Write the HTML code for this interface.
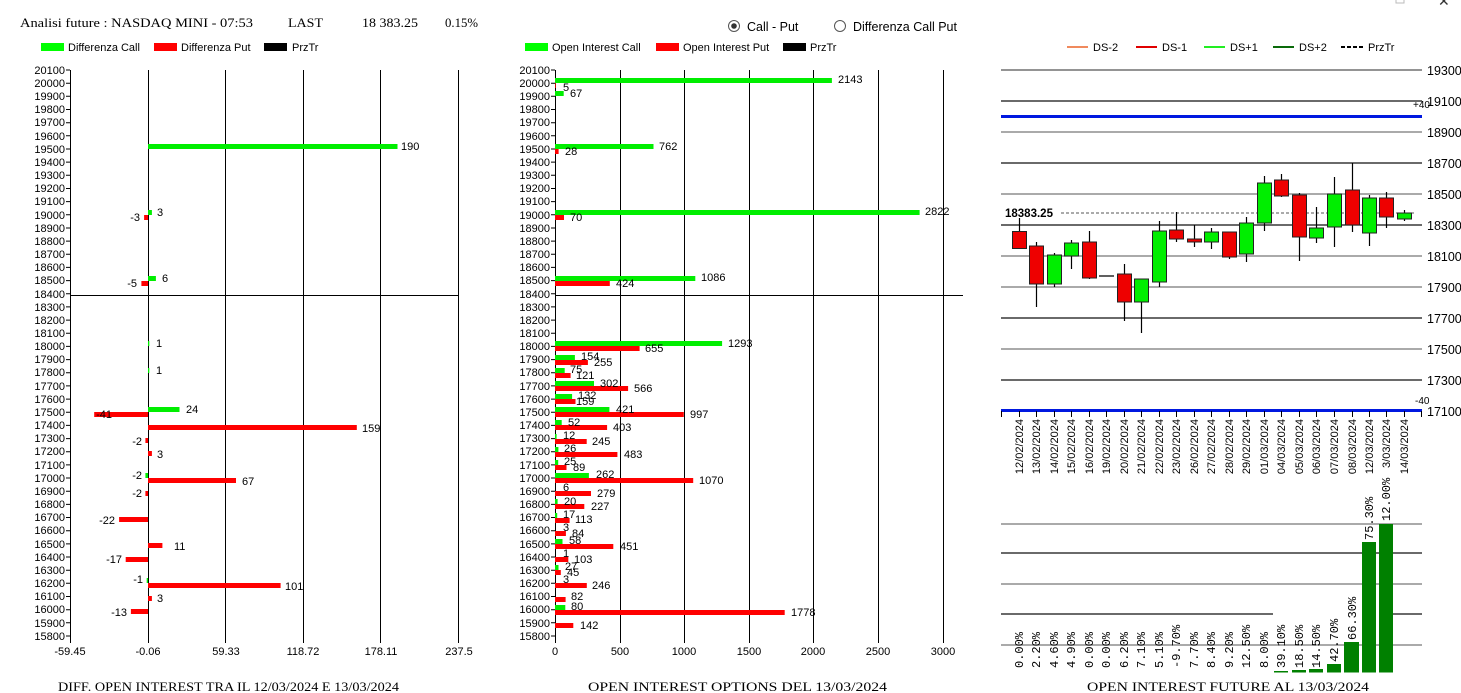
<!DOCTYPE html>
<html><head><meta charset="utf-8"><style>
html,body{margin:0;padding:0;background:#fff;}
svg{display:block;font-family:"Liberation Sans",sans-serif;}
.t{font-size:11px;}
.s{font-family:"Liberation Serif",serif;font-size:13px;}
.m{font-family:"Liberation Mono",monospace;font-size:12px;}
</style></head><body>
<svg width="1461" height="693" viewBox="0 0 1461 693" xmlns="http://www.w3.org/2000/svg">
<rect width="1461" height="693" fill="#fff"/>
<!-- header -->
<text class="s" x="20" y="27" textLength="233" lengthAdjust="spacingAndGlyphs">Analisi future : NASDAQ MINI - 07:53</text>
<text class="s" x="288" y="27" textLength="35" lengthAdjust="spacingAndGlyphs">LAST</text>
<text class="s" x="362" y="27" textLength="56" lengthAdjust="spacingAndGlyphs">18 383.25</text>
<text class="s" x="445" y="27" textLength="33" lengthAdjust="spacingAndGlyphs">0.15%</text>
<circle cx="734" cy="26" r="5.5" fill="#fff" stroke="#555"/><circle cx="734" cy="26" r="2.8" fill="#333"/>
<text x="747" y="31" font-size="12.5">Call - Put</text>
<circle cx="840" cy="26" r="5.5" fill="#fff" stroke="#555"/>
<text x="853" y="31" font-size="12.5">Differenza Call Put</text>
<rect x="1396" y="-4" width="8" height="7" fill="none" stroke="#bbb"/>
<text x="1438" y="6" font-size="14" fill="#333">✕</text>
<!-- legends -->
<rect x="41" y="43" width="23" height="8" fill="#00ff00"/><text class="t" x="68" y="51">Differenza Call</text>
<rect x="154" y="43" width="23" height="8" fill="#ff0000"/><text class="t" x="181" y="51">Differenza Put</text>
<rect x="264" y="43" width="23" height="8" fill="#000"/><text class="t" x="292" y="51">PrzTr</text>
<rect x="525" y="43" width="23" height="8" fill="#00ff00"/><text class="t" x="552" y="51">Open Interest Call</text>
<rect x="656" y="43" width="23" height="8" fill="#ff0000"/><text class="t" x="683" y="51">Open Interest Put</text>
<rect x="783" y="43" width="23" height="8" fill="#000"/><text class="t" x="810" y="51">PrzTr</text>
<line x1="1067" y1="47" x2="1088" y2="47" stroke="#f08a5d" stroke-width="2"/><text class="t" x="1093" y="51">DS-2</text>
<line x1="1136" y1="47" x2="1157" y2="47" stroke="#e00000" stroke-width="2"/><text class="t" x="1162" y="51">DS-1</text>
<line x1="1204" y1="47" x2="1225" y2="47" stroke="#22ee22" stroke-width="2"/><text class="t" x="1230" y="51">DS+1</text>
<line x1="1273" y1="47" x2="1294" y2="47" stroke="#0a6a0a" stroke-width="2"/><text class="t" x="1299" y="51">DS+2</text>
<line x1="1341" y1="47" x2="1363" y2="47" stroke="#000" stroke-width="2" stroke-dasharray="4,2"/><text class="t" x="1368" y="51">PrzTr</text>

<!-- LEFT CHART -->
<g stroke="#000" stroke-width="1">
<line x1="70.5" y1="70" x2="70.5" y2="643"/>
<line x1="148.5" y1="70" x2="148.5" y2="643"/>
<line x1="225.5" y1="70" x2="225.5" y2="643"/>
<line x1="303.5" y1="70" x2="303.5" y2="643"/>
<line x1="380.5" y1="70" x2="380.5" y2="643"/>
<line x1="458.5" y1="70" x2="458.5" y2="643"/>
<line x1="70" y1="295.5" x2="459" y2="295.5"/>
<line x1="555.5" y1="70" x2="555.5" y2="643"/>
<line x1="620.5" y1="70" x2="620.5" y2="643"/>
<line x1="684.5" y1="70" x2="684.5" y2="643"/>
<line x1="749.5" y1="70" x2="749.5" y2="643"/>
<line x1="813.5" y1="70" x2="813.5" y2="643"/>
<line x1="878.5" y1="70" x2="878.5" y2="643"/>
<line x1="943.5" y1="70" x2="943.5" y2="643"/>
<line x1="555" y1="295.5" x2="963" y2="295.5"/>
</g>
<g stroke="#000">
<path d="M66 70H70M66 83.2H70M66 96.3H70M66 109.5H70M66 122.7H70M66 135.8H70M66 149H70M66 162.1H70M66 175.3H70M66 188.5H70M66 201.6H70M66 214.8H70M66 228H70M66 241.1H70M66 254.3H70M66 267.4H70M66 280.6H70M66 293.8H70M66 306.9H70M66 320.1H70M66 333.3H70M66 346.4H70M66 359.6H70M66 372.7H70M66 385.9H70M66 399.1H70M66 412.2H70M66 425.4H70M66 438.6H70M66 451.7H70M66 464.9H70M66 478H70M66 491.2H70M66 504.4H70M66 517.5H70M66 530.7H70M66 543.9H70M66 557H70M66 570.2H70M66 583.3H70M66 596.5H70M66 609.7H70M66 622.8H70M66 636H70"/>
<path transform="translate(485,0)" d="M66 70H70M66 83.2H70M66 96.3H70M66 109.5H70M66 122.7H70M66 135.8H70M66 149H70M66 162.1H70M66 175.3H70M66 188.5H70M66 201.6H70M66 214.8H70M66 228H70M66 241.1H70M66 254.3H70M66 267.4H70M66 280.6H70M66 293.8H70M66 306.9H70M66 320.1H70M66 333.3H70M66 346.4H70M66 359.6H70M66 372.7H70M66 385.9H70M66 399.1H70M66 412.2H70M66 425.4H70M66 438.6H70M66 451.7H70M66 464.9H70M66 478H70M66 491.2H70M66 504.4H70M66 517.5H70M66 530.7H70M66 543.9H70M66 557H70M66 570.2H70M66 583.3H70M66 596.5H70M66 609.7H70M66 622.8H70M66 636H70"/>
</g>
<g class="t" font-size="10.5" text-anchor="end">
<text x="65" y="74">20100</text><text x="65" y="87">20000</text><text x="65" y="100">19900</text><text x="65" y="113">19800</text><text x="65" y="126">19700</text><text x="65" y="140">19600</text><text x="65" y="153">19500</text><text x="65" y="166">19400</text><text x="65" y="179">19300</text><text x="65" y="192">19200</text><text x="65" y="205">19100</text><text x="65" y="219">19000</text><text x="65" y="232">18900</text><text x="65" y="245">18800</text><text x="65" y="258">18700</text><text x="65" y="271">18600</text><text x="65" y="284">18500</text><text x="65" y="298">18400</text><text x="65" y="311">18300</text><text x="65" y="324">18200</text><text x="65" y="337">18100</text><text x="65" y="350">18000</text><text x="65" y="363">17900</text><text x="65" y="376">17800</text><text x="65" y="390">17700</text><text x="65" y="403">17600</text><text x="65" y="416">17500</text><text x="65" y="429">17400</text><text x="65" y="442">17300</text><text x="65" y="455">17200</text><text x="65" y="469">17100</text><text x="65" y="482">17000</text><text x="65" y="495">16900</text><text x="65" y="508">16800</text><text x="65" y="521">16700</text><text x="65" y="534">16600</text><text x="65" y="548">16500</text><text x="65" y="561">16400</text><text x="65" y="574">16300</text><text x="65" y="587">16200</text><text x="65" y="600">16100</text><text x="65" y="613">16000</text><text x="65" y="627">15900</text><text x="65" y="640">15800</text>
</g>
<g class="t" font-size="10.5" text-anchor="end" transform="translate(485,0)">
<text x="65" y="74">20100</text><text x="65" y="87">20000</text><text x="65" y="100">19900</text><text x="65" y="113">19800</text><text x="65" y="126">19700</text><text x="65" y="140">19600</text><text x="65" y="153">19500</text><text x="65" y="166">19400</text><text x="65" y="179">19300</text><text x="65" y="192">19200</text><text x="65" y="205">19100</text><text x="65" y="219">19000</text><text x="65" y="232">18900</text><text x="65" y="245">18800</text><text x="65" y="258">18700</text><text x="65" y="271">18600</text><text x="65" y="284">18500</text><text x="65" y="298">18400</text><text x="65" y="311">18300</text><text x="65" y="324">18200</text><text x="65" y="337">18100</text><text x="65" y="350">18000</text><text x="65" y="363">17900</text><text x="65" y="376">17800</text><text x="65" y="390">17700</text><text x="65" y="403">17600</text><text x="65" y="416">17500</text><text x="65" y="429">17400</text><text x="65" y="442">17300</text><text x="65" y="455">17200</text><text x="65" y="469">17100</text><text x="65" y="482">17000</text><text x="65" y="495">16900</text><text x="65" y="508">16800</text><text x="65" y="521">16700</text><text x="65" y="534">16600</text><text x="65" y="548">16500</text><text x="65" y="561">16400</text><text x="65" y="574">16300</text><text x="65" y="587">16200</text><text x="65" y="600">16100</text><text x="65" y="613">16000</text><text x="65" y="627">15900</text><text x="65" y="640">15800</text>
</g>
<g class="t" text-anchor="middle">
<text x="70" y="655">-59.45</text><text x="148" y="655">-0.06</text><text x="226" y="655">59.33</text><text x="303" y="655">118.72</text><text x="381" y="655">178.11</text><text x="459" y="655">237.5</text>
<text x="555" y="655">0</text><text x="620" y="655">500</text><text x="684" y="655">1000</text><text x="749" y="655">1500</text><text x="813" y="655">2000</text><text x="878" y="655">2500</text><text x="943" y="655">3000</text>
</g>
<!-- left bars -->
<g fill="#00ee00">
<rect x="148" y="144" width="249.5" height="5"/>
<rect x="148" y="210" width="3.9" height="5"/>
<rect x="148" y="276" width="7.9" height="5"/>
<rect x="148" y="341" width="1.3" height="5"/>
<rect x="148" y="368" width="1.3" height="5"/>
<rect x="148" y="407" width="31.5" height="5"/>
<rect x="145.4" y="473" width="2.6" height="5"/>
<rect x="146.7" y="578" width="1.3" height="5"/>
</g>
<g fill="#ff0000">
<rect x="144.1" y="215" width="3.9" height="5"/>
<rect x="141.4" y="281" width="6.6" height="5"/>
<rect x="94.2" y="412" width="53.8" height="5"/>
<rect x="148" y="425" width="208.8" height="5"/>
<rect x="145.4" y="438" width="2.6" height="5"/>
<rect x="148" y="451" width="3.9" height="5"/>
<rect x="148" y="478" width="88" height="5"/>
<rect x="145.4" y="491" width="2.6" height="5"/>
<rect x="119.1" y="517" width="28.9" height="5"/>
<rect x="148" y="543" width="14.4" height="5"/>
<rect x="125.7" y="557" width="22.3" height="5"/>
<rect x="148" y="583" width="132.6" height="5"/>
<rect x="148" y="596" width="3.9" height="5"/>
<rect x="130.9" y="609" width="17.1" height="5"/>
</g>
<g class="t">
<text x="401" y="150">190</text><text x="157" y="216">3</text><text x="162" y="282">6</text>
<text x="156" y="347">1</text><text x="156" y="374">1</text><text x="186" y="413">24</text>
<text x="362" y="432">159</text><text x="157" y="458">3</text><text x="242" y="485">67</text>
<text x="174" y="550">11</text><text x="285" y="590">101</text><text x="157" y="602">3</text>
</g>
<g class="t" text-anchor="end">
<text x="140" y="221">-3</text><text x="137" y="287">-5</text><text x="112" y="418">-41</text>
<text x="142" y="445">-2</text><text x="142" y="479">-2</text><text x="142" y="497">-2</text>
<text x="115" y="524">-22</text><text x="122" y="563">-17</text><text x="143" y="583">-1</text><text x="127" y="616">-13</text>
</g>
<!-- middle bars -->
<g fill="#00ee00">
<rect x="555" y="78" width="276.9" height="5"/>
<rect x="555" y="91" width="8.7" height="5"/>
<rect x="555" y="144" width="98.5" height="5"/>
<rect x="555" y="210" width="364.6" height="5"/>
<rect x="555" y="276" width="140.3" height="5"/>
<rect x="555" y="341" width="167.1" height="5"/>
<rect x="555" y="355" width="19.9" height="5"/>
<rect x="555" y="368" width="9.7" height="5"/>
<rect x="555" y="381" width="39" height="5"/>
<rect x="555" y="394" width="17.1" height="5"/>
<rect x="555" y="407" width="54.4" height="5"/>
<rect x="555" y="420" width="6.7" height="5"/>
<rect x="555" y="434" width="1.6" height="5"/>
<rect x="555" y="447" width="3.4" height="5"/>
<rect x="555" y="460" width="3.2" height="5"/>
<rect x="555" y="473" width="33.9" height="5"/>
<rect x="555" y="499" width="2.6" height="5"/>
<rect x="555" y="513" width="2.2" height="5"/>
<rect x="555" y="539" width="7.5" height="5"/>
<rect x="555" y="565" width="3.5" height="5"/>
<rect x="555" y="605" width="10.3" height="5"/>
</g>
<g fill="#ff0000">
<rect x="555" y="83" width="0.8" height="5"/>
<rect x="555" y="149" width="3.6" height="5"/>
<rect x="555" y="215" width="9" height="5"/>
<rect x="555" y="281" width="54.8" height="5"/>
<rect x="555" y="346" width="84.6" height="5"/>
<rect x="555" y="360" width="32.9" height="5"/>
<rect x="555" y="373" width="15.6" height="5"/>
<rect x="555" y="386" width="73.1" height="5"/>
<rect x="555" y="399" width="20.5" height="5"/>
<rect x="555" y="412" width="128.8" height="5"/>
<rect x="555" y="425" width="52.1" height="5"/>
<rect x="555" y="439" width="31.7" height="5"/>
<rect x="555" y="452" width="62.4" height="5"/>
<rect x="555" y="465" width="11.5" height="5"/>
<rect x="555" y="478" width="138.2" height="5"/>
<rect x="555" y="491" width="36" height="5"/>
<rect x="555" y="504" width="29.3" height="5"/>
<rect x="555" y="518" width="14.6" height="5"/>
<rect x="555" y="531" width="10.9" height="5"/>
<rect x="555" y="544" width="58.3" height="5"/>
<rect x="555" y="557" width="13.3" height="5"/>
<rect x="555" y="570" width="5.8" height="5"/>
<rect x="555" y="583" width="31.8" height="5"/>
<rect x="555" y="597" width="10.6" height="5"/>
<rect x="555" y="610" width="229.7" height="5"/>
<rect x="555" y="623" width="18.3" height="5"/>
</g>
<g class="t">
<text x="838" y="83">2143</text><text x="563" y="91">5</text><text x="570" y="97">67</text>
<text x="659" y="150">762</text><text x="565" y="155">28</text>
<text x="925" y="215">2822</text><text x="570" y="221">70</text>
<text x="701" y="281">1086</text><text x="616" y="287">424</text>
<text x="728" y="347">1293</text><text x="645" y="352">655</text>
<text x="581" y="360">154</text><text x="594" y="366">255</text>
<text x="570" y="373">75</text><text x="576" y="379">121</text>
<text x="600" y="387">302</text><text x="634" y="392">566</text>
<text x="578" y="399">132</text><text x="576" y="405">159</text>
<text x="616" y="413">421</text><text x="690" y="418">997</text>
<text x="568" y="426">52</text><text x="613" y="431">403</text>
<text x="563" y="439">12</text><text x="592" y="445">245</text>
<text x="564" y="452">26</text><text x="624" y="458">483</text>
<text x="564" y="465">25</text><text x="573" y="471">89</text>
<text x="596" y="478">262</text><text x="699" y="484">1070</text>
<text x="563" y="491">6</text><text x="597" y="497">279</text>
<text x="564" y="505">20</text><text x="591" y="510">227</text>
<text x="563" y="518">17</text><text x="575" y="523">113</text>
<text x="563" y="531">3</text><text x="572" y="537">84</text>
<text x="569" y="544">58</text><text x="620" y="550">451</text>
<text x="563" y="557">1</text><text x="574" y="563">103</text>
<text x="565" y="570">27</text><text x="567" y="576">45</text>
<text x="563" y="583">3</text><text x="592" y="589">246</text>
<text x="571" y="600">82</text>
<text x="571" y="610">80</text><text x="791" y="616">1778</text>
<text x="580" y="629">142</text>
</g>

<!-- RIGHT CHART -->
<g stroke-width="1.3">
<line x1="1001" y1="70" x2="1422" y2="70" stroke="#555"/>
<line x1="1001" y1="101" x2="1422" y2="101" stroke="#111"/>
<line x1="1001" y1="132" x2="1422" y2="132" stroke="#777"/>
<line x1="1001" y1="163" x2="1422" y2="163" stroke="#111"/>
<line x1="1001" y1="194" x2="1422" y2="194" stroke="#777"/>
<line x1="1001" y1="225" x2="1422" y2="225" stroke="#111"/>
<line x1="1001" y1="256" x2="1422" y2="256" stroke="#777"/>
<line x1="1001" y1="287" x2="1422" y2="287" stroke="#777"/>
<line x1="1001" y1="318" x2="1422" y2="318" stroke="#111"/>
<line x1="1001" y1="349" x2="1422" y2="349" stroke="#777"/>
<line x1="1001" y1="380" x2="1422" y2="380" stroke="#111"/>
</g>
<line x1="1001" y1="116.5" x2="1422" y2="116.5" stroke="#0018e0" stroke-width="3"/>
<line x1="1001" y1="410.5" x2="1422" y2="410.5" stroke="#0018e0" stroke-width="3"/>
<g font-size="12.5">
<text x="1427" y="75">19300</text><text x="1427" y="106">19100</text><text x="1427" y="137">18900</text><text x="1427" y="168">18700</text><text x="1427" y="199">18500</text><text x="1427" y="230">18300</text><text x="1427" y="261">18100</text><text x="1427" y="292">17900</text><text x="1427" y="323">17700</text><text x="1427" y="354">17500</text><text x="1427" y="385">17300</text><text x="1427" y="416">17100</text>
<text x="1413" y="108" font-size="10">+40</text><text x="1415" y="404" font-size="10">-40</text>
</g>
<line x1="1061" y1="213" x2="1415" y2="213" stroke="#555" stroke-dasharray="3,2"/>
<text x="1005" y="217" font-size="11.5" font-weight="bold">18383.25</text>
<path stroke="#000" stroke-width="1.2" fill="none" d="M1019.5 218V249M1036.5 242V307M1054.5 253V287M1071.5 240V269M1089.5 231V279M1124.5 264V321M1141.5 279V333M1159.5 221V287M1176.5 212V242M1194.5 225V247M1211.5 228V249M1229.5 232V259M1246.5 217V262M1264.5 176V231M1281.5 174V197M1299.5 193V261M1316.5 207V243M1334.5 177V247M1352.5 163V232M1369.5 195V246M1386.5 192V228M1404.5 210V221M1099 276H1114"/>
<g stroke="#222" stroke-width="1">
<rect x="1012.5" y="231.5" width="14" height="17" fill="#ee0000"/>
<rect x="1029.5" y="246" width="14" height="38" fill="#ee0000"/>
<rect x="1047.5" y="255" width="14" height="29" fill="#00ee00"/>
<rect x="1064.5" y="243" width="14" height="13" fill="#00ee00"/>
<rect x="1082.5" y="242" width="14" height="36" fill="#ee0000"/>
<rect x="1117.5" y="274" width="14" height="28" fill="#ee0000"/>
<rect x="1134.5" y="279" width="14" height="23" fill="#00ee00"/>
<rect x="1152.5" y="231" width="14" height="51" fill="#00ee00"/>
<rect x="1169.5" y="230" width="14" height="9" fill="#ee0000"/>
<rect x="1187.5" y="239" width="14" height="3" fill="#ee0000"/>
<rect x="1204.5" y="232" width="14" height="10" fill="#00ee00"/>
<rect x="1222.5" y="232" width="14" height="25" fill="#ee0000"/>
<rect x="1239.5" y="223" width="14" height="31" fill="#00ee00"/>
<rect x="1257.5" y="183" width="14" height="40" fill="#00ee00"/>
<rect x="1274.5" y="180" width="14" height="16" fill="#ee0000"/>
<rect x="1292.5" y="195" width="14" height="42" fill="#ee0000"/>
<rect x="1309.5" y="228" width="14" height="10" fill="#00ee00"/>
<rect x="1327.5" y="194" width="14" height="33" fill="#00ee00"/>
<rect x="1345.5" y="190" width="14" height="35" fill="#ee0000"/>
<rect x="1362.5" y="198" width="14" height="35" fill="#00ee00"/>
<rect x="1379.5" y="198" width="14" height="19" fill="#ee0000"/>
<rect x="1397.5" y="213" width="14" height="6" fill="#00ee00"/>
</g>
<path stroke="#000" d="M1001.5 411V417M1019.5 411V417M1036.5 411V417M1054.5 411V417M1071.5 411V417M1089.5 411V417M1106.5 411V417M1124.5 411V417M1141.5 411V417M1159.5 411V417M1176.5 411V417M1194.5 411V417M1211.5 411V417M1229.5 411V417M1246.5 411V417M1264.5 411V417M1281.5 411V417M1299.5 411V417M1316.5 411V417M1334.5 411V417M1352.5 411V417M1369.5 411V417M1386.5 411V417M1404.5 411V417M1421.5 411V417"/>
<g class="t" text-anchor="end" font-size="11">
<text transform="translate(1023,419) rotate(-90)">12/02/2024</text>
<text transform="translate(1040,419) rotate(-90)">13/02/2024</text>
<text transform="translate(1058,419) rotate(-90)">14/02/2024</text>
<text transform="translate(1075,419) rotate(-90)">15/02/2024</text>
<text transform="translate(1093,419) rotate(-90)">16/02/2024</text>
<text transform="translate(1110,419) rotate(-90)">19/02/2024</text>
<text transform="translate(1128,419) rotate(-90)">20/02/2024</text>
<text transform="translate(1145,419) rotate(-90)">21/02/2024</text>
<text transform="translate(1163,419) rotate(-90)">22/02/2024</text>
<text transform="translate(1180,419) rotate(-90)">23/02/2024</text>
<text transform="translate(1198,419) rotate(-90)">26/02/2024</text>
<text transform="translate(1215,419) rotate(-90)">27/02/2024</text>
<text transform="translate(1233,419) rotate(-90)">28/02/2024</text>
<text transform="translate(1250,419) rotate(-90)">29/02/2024</text>
<text transform="translate(1268,419) rotate(-90)">01/03/2024</text>
<text transform="translate(1285,419) rotate(-90)">04/03/2024</text>
<text transform="translate(1303,419) rotate(-90)">05/03/2024</text>
<text transform="translate(1320,419) rotate(-90)">06/03/2024</text>
<text transform="translate(1338,419) rotate(-90)">07/03/2024</text>
<text transform="translate(1356,419) rotate(-90)">08/03/2024</text>
<text transform="translate(1373,419) rotate(-90)">12/03/2024</text>
<text transform="translate(1390,419) rotate(-90)">3/03/2024</text>
<text transform="translate(1408,419) rotate(-90)">14/03/2024</text>
</g>
<g stroke-width="1.3">
<line x1="1001" y1="524" x2="1422" y2="524" stroke="#777"/>
<line x1="1001" y1="553" x2="1422" y2="553" stroke="#111"/>
<line x1="1001" y1="584" x2="1422" y2="584" stroke="#777"/>
<line x1="1001" y1="614" x2="1273" y2="614" stroke="#111"/>
<line x1="1380" y1="614" x2="1422" y2="614" stroke="#111"/>
<line x1="1001" y1="645" x2="1422" y2="645" stroke="#777"/>
</g>
<g fill="#008000">
<rect x="1274" y="671" width="14" height="1.5"/>
<rect x="1292" y="670" width="14" height="2.5"/>
<rect x="1309" y="669" width="14" height="3.5"/>
<rect x="1327" y="664" width="14" height="8.5"/>
<rect x="1344" y="642" width="15" height="30.5"/>
<rect x="1362" y="542" width="14" height="130.5"/>
<rect x="1379" y="524" width="14" height="148.5"/>
</g>
<g class="m">
<text transform="translate(1023,668) rotate(-90)">0.00%</text>
<text transform="translate(1040,668) rotate(-90)">2.20%</text>
<text transform="translate(1058,668) rotate(-90)">4.60%</text>
<text transform="translate(1075,668) rotate(-90)">4.90%</text>
<text transform="translate(1093,668) rotate(-90)">0.00%</text>
<text transform="translate(1110,668) rotate(-90)">0.00%</text>
<text transform="translate(1128,668) rotate(-90)">6.20%</text>
<text transform="translate(1145,668) rotate(-90)">7.10%</text>
<text transform="translate(1163,668) rotate(-90)">5.10%</text>
<text transform="translate(1180,668) rotate(-90)">-9.70%</text>
<text transform="translate(1198,668) rotate(-90)">7.70%</text>
<text transform="translate(1215,668) rotate(-90)">8.40%</text>
<text transform="translate(1233,668) rotate(-90)">9.20%</text>
<text transform="translate(1250,668) rotate(-90)">12.50%</text>
<text transform="translate(1268,668) rotate(-90)">8.00%</text>
<text transform="translate(1285,668) rotate(-90)">39.10%</text>
<text transform="translate(1303,668) rotate(-90)">18.50%</text>
<text transform="translate(1320,668) rotate(-90)">14.50%</text>
<text transform="translate(1338,662) rotate(-90)">42.70%</text>
<text transform="translate(1356,640) rotate(-90)">66.30%</text>
<text transform="translate(1373,540) rotate(-90)">75.30%</text>
<text transform="translate(1390,521) rotate(-90)">12.00%</text>
</g>
<g class="s">
<text x="58" y="691" textLength="341" lengthAdjust="spacingAndGlyphs">DIFF. OPEN INTEREST TRA IL 12/03/2024 E 13/03/2024</text>
<text x="588" y="691" textLength="299" lengthAdjust="spacingAndGlyphs">OPEN INTEREST OPTIONS DEL 13/03/2024</text>
<text x="1087" y="691" textLength="282" lengthAdjust="spacingAndGlyphs">OPEN INTEREST FUTURE AL 13/03/2024</text>
</g>
</svg>
</body></html>
